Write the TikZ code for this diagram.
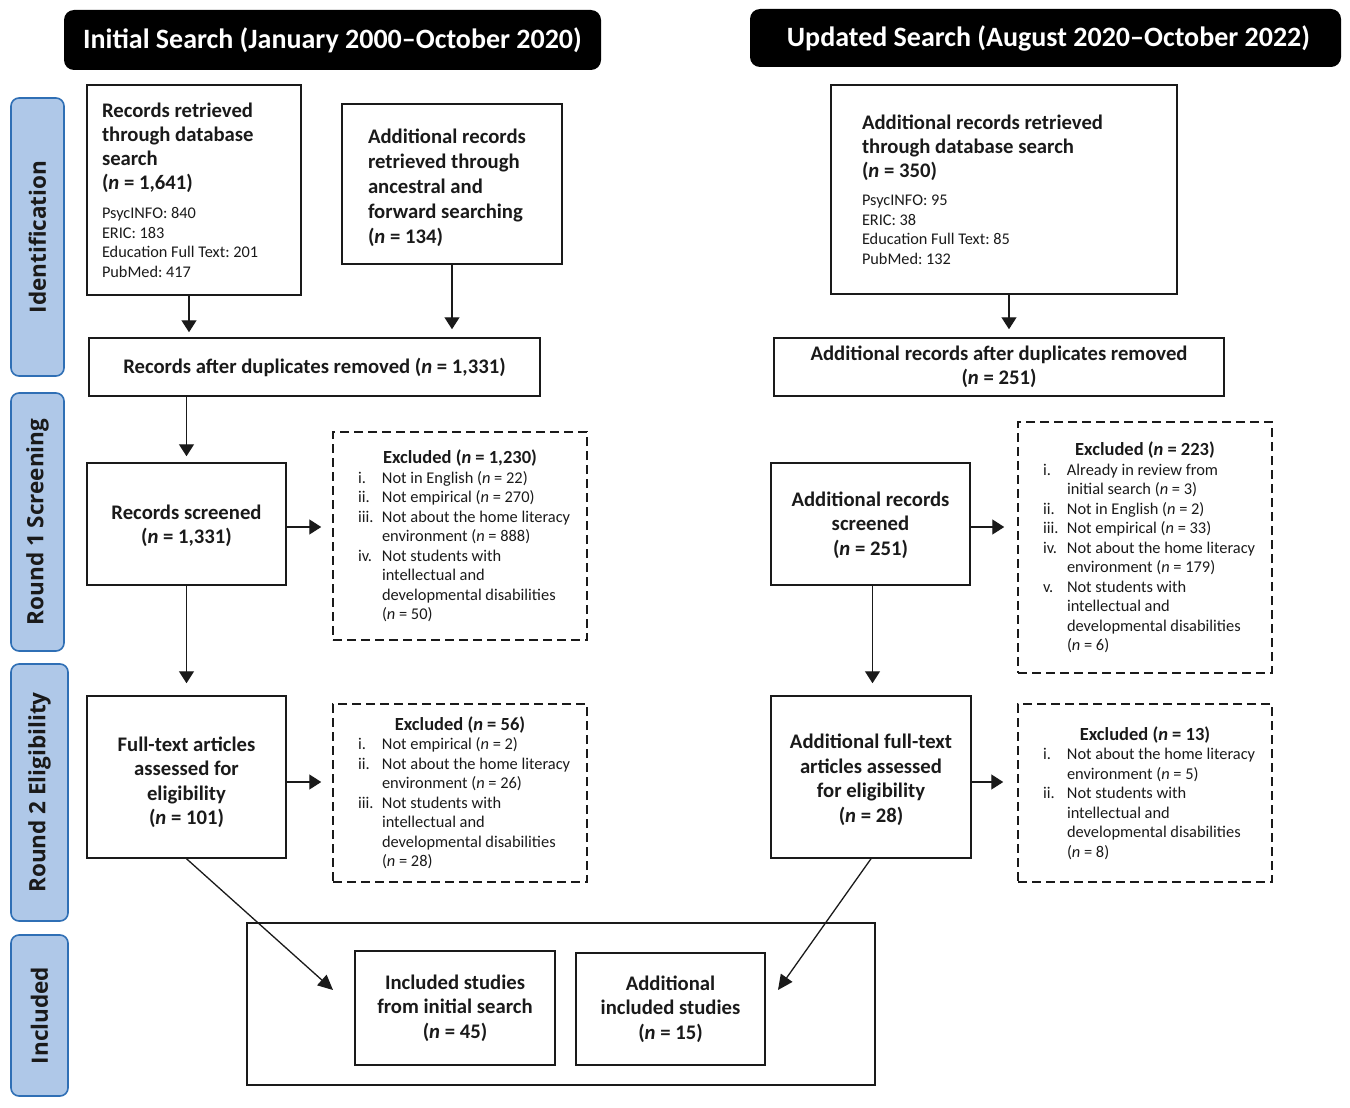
\documentclass[tikz,border=0pt]{standalone}
\usepackage{fontspec}
\setmainfont{Carlito}
\newfontfamily\tabfont{Open Sans}
\usetikzlibrary{arrows.meta}
\hfuzz=60pt
\hbadness=10000
\frenchspacing
\definecolor{tabfill}{HTML}{AFC8E8}
\definecolor{tabline}{HTML}{2F6FB5}
\definecolor{ink}{HTML}{1A1A1A}
\newcommand{\nn}{\textit{n}}
\newcommand{\fixsp}{\spaceskip=0pt\xspaceskip=0pt\hyphenpenalty=10000\exhyphenpenalty=10000\relax}
\newcommand{\exi}[2]{\par\noindent\hangindent=24pt\hangafter=1\makebox[24pt][l]{#1}#2\par}
\newcommand{\exhead}[1]{{\centering\bfseries\fontsize{18.5}{20}\selectfont #1\par}}
\newcommand{\lowered}[2]{\raisebox{-#1}[\height][\depth]{\begin{tabular}{@{}c@{}}#2\end{tabular}}}
\tikzset{
  every node/.style={text=ink},
  hdr/.style={fill=black, rounded corners=10pt, text=white, font=\bfseries\fontsize{28}{32}\selectfont, inner sep=0pt},
  tab/.style={fill=tabfill, draw=tabline, line width=1.6pt, rounded corners=8pt, inner sep=0pt},
  tablabel/.style={rotate=90, font=\tabfont\bfseries\fontsize{22.5}{26}\selectfont, text=ink},
  mbox/.style={draw=ink, line width=1.5pt, inner sep=0pt, align=center, font=\bfseries\fontsize{20.7}{24.5}\selectfont},
  exbox/.style={draw=ink, line width=1.5pt, dash pattern=on 9pt off 5pt, inner xsep=15pt, inner ysep=0pt, text width=224pt, align=left, font=\fontsize{16.4}{19.5}\selectfont},
  arr/.style={draw=ink, line width=1.4pt, -{Triangle[width=15pt,length=12pt]}},
  darr/.style={draw=ink, line width=1.3pt, -{Triangle[width=14pt,length=15pt]}}
}
\begin{document}
\begin{tikzpicture}[x=1pt, y=-1pt]
\useasboundingbox (0,0) rectangle (1350,1108);
% headers
\node[hdr, minimum width=537pt, minimum height=60pt] (h1) at (332.5,40) {Initial Search (January 2000--October 2020)};
\node[hdr, minimum width=591pt, minimum height=58pt] (h2) at (1045.5,38) {\hspace*{6pt}Updated Search (August 2020--October 2022)};
% side tabs
\node[tab, minimum width=53pt, minimum height=278pt] (t1) at (37.5,237) {};
\node[tablabel] (t1l) at (t1.center) {Identification};
\node[tab, minimum width=53pt, minimum height=258pt] (t2) at (37.5,522) {};
\node[tablabel] (t2l) at (t2.center) {Round 1 Screening};
\node[tab, minimum width=57pt, minimum height=257pt] (t3) at (39.5,792.5) {};
\node[tablabel] (t3l) at (t3.center) {Round 2 Eligibility};
\node[tab, minimum width=57pt, minimum height=161pt] (t4) at (39.5,1015.5) {};
\node[tablabel] (t4l) at (t4.center) {Included};
% left column
\node[mbox, align=left, text width=184pt, inner xsep=15pt, minimum height=210pt] (A) at (194,190)
 {\fixsp\baselineskip=24pt Records retrieved\\ through database\\ search\\ (\nn\ = 1,641)\par\vspace{10pt}
  \mdseries\fontsize{16.3}{19.5}\selectfont\fixsp PsycINFO: 840\\ ERIC: 183\\ Education Full Text: 201\\ PubMed: 417\par};
\node[mbox, align=left, text width=168pt, inner xsep=26pt, minimum height=160pt] (B) at (452,184)
 {\fixsp\baselineskip=25pt\rule{0pt}{23pt}Additional records\\ retrieved through\\ ancestral and\\ forward searching\\ (\nn\ = 134)\par};
\node[mbox, minimum width=451pt, minimum height=58pt] (C) at (314.5,367) {Records after duplicates removed (\nn\ = 1,331)};
\node[mbox, minimum width=199pt, minimum height=122pt] (D) at (186.5,524) {\lowered{2.5pt}{Records screened\\ (\nn\ = 1,331)}};
\node[exbox, minimum height=208pt] (E) at (460,536) {\fixsp\leftskip=10pt
 \exhead{Excluded (\nn\ = 1,230)}%
 \exi{i.}{Not in English (\nn\ = 22)}%
 \exi{ii.}{Not empirical (\nn\ = 270)}%
 \exi{iii.}{Not about the home literacy\newline environment (\nn\ = 888)}%
 \exi{iv.}{Not students with\newline intellectual and\newline developmental disabilities\newline (\nn\ = 50)}};
\node[mbox, minimum width=199pt, minimum height=162pt] (F) at (186.5,777) {\lowered{6pt}{Full-text articles\\ assessed for\\ eligibility\\ (\nn\ = 101)}};
\node[exbox, minimum height=178pt] (G) at (460,793) {\fixsp\leftskip=10pt
 \exhead{Excluded (\nn\ = 56)}%
 \exi{i.}{Not empirical (\nn\ = 2)}%
 \exi{ii.}{Not about the home literacy\newline environment (\nn\ = 26)}%
 \exi{iii.}{Not students with\newline intellectual and\newline developmental disabilities\newline (\nn\ = 28)}};
% right column
\node[mbox, align=left, text width=284pt, inner xsep=31pt, minimum height=209pt] (H) at (1004,189.5)
 {\fixsp\baselineskip=24pt Additional records retrieved\\ through database search\\ (\nn\ = 350)\par\vspace{9pt}
  \mdseries\fontsize{16.3}{19.5}\selectfont\fixsp PsycINFO: 95\\ ERIC: 38\\ Education Full Text: 85\\ PubMed: 132\par};
\node[mbox, minimum width=450pt, minimum height=58pt] (I) at (999,367) {Additional records after duplicates removed\\ (\nn\ = 251)};
\node[mbox, minimum width=199pt, minimum height=122pt] (J) at (870.5,524) {\lowered{2pt}{Additional records\\ screened\\ (\nn\ = 251)}};
\node[exbox, minimum height=251pt] (K) at (1145,547.5) {\fixsp\leftskip=10pt
 \exhead{Excluded (\nn\ = 223)}%
 \exi{i.}{Already in review from\newline initial search (\nn\ = 3)}%
 \exi{ii.}{Not in English (\nn\ = 2)}%
 \exi{iii.}{Not empirical (\nn\ = 33)}%
 \exi{iv.}{Not about the home literacy\newline environment (\nn\ = 179)}%
 \exi{v.}{Not students with\newline intellectual and\newline developmental disabilities\newline (\nn\ = 6)}};
\node[mbox, minimum width=200pt, minimum height=162pt] (L) at (871,777) {\lowered{3.5pt}{Additional full-text\\ articles assessed\\ for eligibility\\ (\nn\ = 28)}};
\node[exbox, minimum height=178pt] (M) at (1145,793) {\fixsp\leftskip=10pt
 \exhead{Excluded (\nn\ = 13)}%
 \exi{i.}{Not about the home literacy\newline environment (\nn\ = 5)}%
 \exi{ii.}{Not students with\newline intellectual and\newline developmental disabilities\newline (\nn\ = 8)}};
% included
\node[draw=ink, line width=1.5pt, minimum width=628pt, minimum height=162pt, inner sep=0pt] (big) at (561,1004) {};
\node[mbox, minimum width=200pt, minimum height=114pt] (N) at (455,1008) {Included studies\\ from initial search\\ (\nn\ = 45)};
\node[mbox, minimum width=189pt, minimum height=112pt] (O) at (670.5,1009) {Additional\\ included studies\\ (\nn\ = 15)};
\coordinate (endN) at (333,990);
\coordinate (endO) at (778,990);
% connectors
\draw[arr, shorten >=5pt] ([xshift=-5pt]A.south) -- ([xshift=-5pt]A.south |- C.north);
\draw[arr, shorten >=8pt] (B.south) -- (B.south |- C.north);
\draw[arr, shorten >=6pt] (C.south -| D.north) -- (D.north);
\draw[arr, shorten >=11pt] ([yshift=-3pt]D.east) -- ([yshift=-3pt]D.east -| E.west);
\draw[arr, shorten >=12pt] (D.south) -- (F.north);
\draw[arr, shorten >=11pt] ([yshift=-5pt]F.east) -- ([yshift=-5pt]F.east -| G.west);
\draw[arr, shorten >=8pt] ([xshift=5pt]H.south) -- ([xshift=5pt]H.south |- I.north);
\draw[arr, shorten >=13pt] ([yshift=-3pt]J.east) -- ([yshift=-3pt]J.east -| K.west);
\draw[arr, shorten >=12pt] ([xshift=2pt]J.south) -- ([xshift=2pt]J.south |- L.north);
\draw[arr, shorten >=14pt] ([yshift=-5pt]L.east) -- ([yshift=-5pt]L.east -| M.west);
\draw[darr] (F.south) -- (endN);
\draw[darr] (L.south) -- (endO);
\end{tikzpicture}
\end{document}
